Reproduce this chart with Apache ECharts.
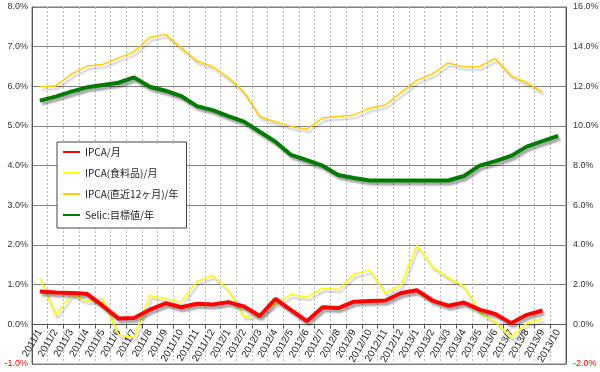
<!DOCTYPE html>
<html><head><meta charset="utf-8">
<script src="https://cdn.jsdelivr.net/npm/echarts@6/dist/echarts.min.js"></script>
<style>html,body{margin:0;padding:0;background:#fff}#c{width:600px;height:372px}</style>
</head><body><div id="c"></div>
<script>
var categories = ['2011/1','2011/2','2011/3','2011/4','2011/5','2011/6','2011/7','2011/8','2011/9','2011/10','2011/11','2011/12',
'2012/1','2012/2','2012/3','2012/4','2012/5','2012/6','2012/7','2012/8','2012/9','2012/10','2012/11','2012/12',
'2013/1','2013/2','2013/3','2013/4','2013/5','2013/6','2013/7','2013/8','2013/9','2013/10'];
var ipcaMonth = [0.83,0.80,0.79,0.77,0.47,0.15,0.16,0.37,0.53,0.43,0.52,0.50,
0.56,0.45,0.21,0.64,0.36,0.08,0.43,0.41,0.57,0.59,0.60,0.79,
0.86,0.60,0.47,0.55,0.37,0.26,0.03,0.24,0.35];
var ipcaFood = [1.16,0.23,0.75,0.58,0.63,-0.26,-0.34,0.72,0.64,0.56,1.08,1.23,
0.86,0.19,0.25,0.51,0.75,0.68,0.91,0.88,1.26,1.36,0.79,0.99,
1.99,1.45,1.18,0.96,0.31,0.06,-0.33,0.02,0.14];
var ipca12m = [5.99,6.01,6.30,6.51,6.55,6.71,6.87,7.23,7.31,6.97,6.64,6.50,
6.22,5.85,5.24,5.10,4.99,4.92,5.20,5.24,5.28,5.45,5.53,5.84,
6.15,6.31,6.59,6.49,6.50,6.70,6.27,6.09,5.86];
var selic = [11.28,11.48,11.73,11.95,12.07,12.18,12.45,11.98,11.78,11.51,11.0,10.8,
10.5,10.22,9.71,9.21,8.54,8.28,8.0,7.53,7.38,7.25,7.25,7.25,
7.25,7.25,7.25,7.48,8.0,8.23,8.49,8.96,9.24,9.5];
var leftTicks = {min:-1, max:8, interval:1};
var rightTicks = {min:-2, max:16, interval:2};
var names = ['IPCA/月','IPCA(食料品)/月','IPCA(直近12ヶ月)/年','Selic:目標値/年'];

var W = 600, H = 372, G = {left:32, right:34, top:7, bottom:8};
var plotH = H - G.top - G.bottom;
// place the category axis at the value 0 of the left axis
var zeroOffset = -plotH * (0 - leftTicks.min) / (leftTicks.max - leftTicks.min);

var shadow = {shadowColor:'rgba(0,0,0,0.35)', shadowBlur:2, shadowOffsetX:2, shadowOffsetY:3};
function ls(color, w){ return Object.assign({color:color, width:w}, shadow); }
var font = 'Liberation Sans, Noto Sans CJK JP, sans-serif';

var chart = echarts.init(document.getElementById('c'));
chart.setOption({
  animation:false,
  textStyle:{fontFamily:font},
  grid:{left:G.left, right:G.right, top:G.top, bottom:G.bottom, containLabel:false, outerBoundsMode:'none',
        show:true, borderColor:'#7a7a7a', borderWidth:1},
  legend:{
    orient:'vertical', left:57, top:142, itemGap:11, itemWidth:17, itemHeight:10,
    backgroundColor:'#fff', borderColor:'#444', borderWidth:1, padding:[5,8,8,5],
    itemStyle:{opacity:0},
    textStyle:{fontSize:10, color:'#222', fontFamily:'Noto Sans CJK JP, sans-serif'},
    data:names
  },
  xAxis:{
    type:'category', data:categories, boundaryGap:true, position:'bottom', offset:zeroOffset,
    axisLine:{onZero:false, lineStyle:{color:'#555', width:1}},
    axisTick:{show:true, length:4, lineStyle:{color:'#555'}},
    axisLabel:{interval:0, rotate:60, fontSize:10, color:'#222', margin:6},
    splitLine:{show:true, interval:0, lineStyle:{color:'#b8b8b8', type:[2,2], width:1}}
  },
  yAxis:[
    {type:'value', min:leftTicks.min, max:leftTicks.max, interval:leftTicks.interval, position:'left',
     axisLine:{show:true, lineStyle:{color:'#555'}}, axisTick:{show:false},
     axisLabel:{fontSize:9, margin:4, formatter:function(v){return v.toFixed(1)+'%';},
       color:function(v){return Number(v)<0?'#ff0000':'#333';}},
     splitLine:{lineStyle:{color:'#808080', width:1}}},
    {type:'value', min:rightTicks.min, max:rightTicks.max, interval:rightTicks.interval, position:'right',
     axisLine:{show:true, lineStyle:{color:'#555'}}, axisTick:{show:false},
     axisLabel:{fontSize:9, margin:7, formatter:function(v){return v.toFixed(1)+'%';},
       color:function(v){return Number(v)<0?'#ff0000':'#333';}},
     splitLine:{show:false}}
  ],
  series:[
    {name:names[0], type:'line', yAxisIndex:0, data:ipcaMonth, symbol:'none', z:5,
     lineStyle:ls('#ff0000',4), itemStyle:{color:'#ff0000'}},
    {name:names[1], type:'line', yAxisIndex:0, data:ipcaFood, symbol:'none', z:4,
     lineStyle:Object.assign(ls('#ffff00',1.5),{shadowColor:'rgba(0,0,0,0.25)'}), itemStyle:{color:'#ffff00'}},
    {name:names[2], type:'line', yAxisIndex:0, data:ipca12m, symbol:'none', z:4,
     lineStyle:Object.assign(ls('#ffcc00',1.5),{shadowColor:'rgba(0,0,0,0.25)'}), itemStyle:{color:'#ffcc00'}},
    {name:names[3], type:'line', yAxisIndex:1, data:selic, symbol:'none', z:5,
     lineStyle:ls('#007a00',4), itemStyle:{color:'#008000'}}
  ]
});
</script></body></html>
